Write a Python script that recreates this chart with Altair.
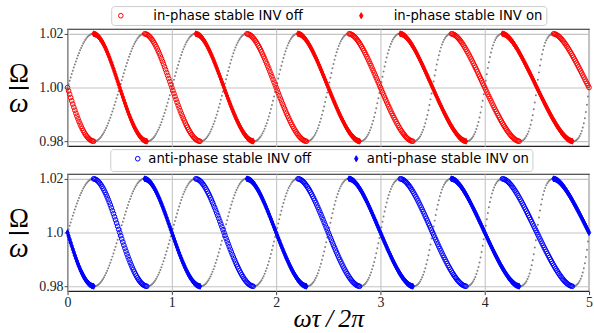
import numpy as np
import pandas as pd
import altair as alt

# ---- model / axis settings -------------------------------------------------
# Self-consistent collective frequency of two delay-coupled oscillators:
#   Ω = ω ∓ K sin(Ωτ)   ->   y = 1 ∓ k sin(2π x y),  x = ωτ/2π, y = Ω/ω
K_OVER_OMEGA = 0.02
X_START, X_STOP, X_STEP = 0.0, 5.0, 0.01
X_TICKS = [0, 1, 2, 3, 4, 5]
Y_TICKS = [0.98, 1.00, 1.02]
Y_DOMAIN = [0.9782, 1.0218]

IN_LABELS = ["in-phase stable INV off", "in-phase stable INV on"]
ANTI_LABELS = ["anti-phase stable INV off", "anti-phase stable INV on"]
X_TITLE = "ωτ\u2009/\u20092π"

RED = "#ff0000"
BLUE = "#0000ff"
GREY = "#808080"
THIN_DIAMOND = "M0,-1L0.55,0L0,1L-0.55,0Z"

xs = np.round(np.arange(X_START, X_STOP + X_STEP / 2, X_STEP), 6)


def solve_branch(sign):
    """Fixed-point solution of y = 1 - sign*k*sin(2*pi*x*y) on the x grid."""
    y = np.ones_like(xs)
    for _ in range(300):
        y = 1.0 - sign * K_OVER_OMEGA * np.sin(2 * np.pi * xs * y)
    stable = sign * np.cos(2 * np.pi * xs * y) > 0
    return pd.DataFrame({"x": xs, "y": y, "stable": stable})


branch_minus = solve_branch(+1)   # Ω = ω - K sin(Ωτ)
branch_plus = solve_branch(-1)    # Ω = ω + K sin(Ωτ)

unstable = pd.concat([branch_minus[~branch_minus.stable],
                      branch_plus[~branch_plus.stable]], ignore_index=True)

top_stable = pd.concat([
    branch_minus[branch_minus.stable].assign(series=IN_LABELS[0]),
    branch_plus[branch_plus.stable].assign(series=IN_LABELS[1]),
], ignore_index=True)

bottom_stable = pd.concat([
    branch_plus[branch_plus.stable].assign(series=ANTI_LABELS[0]),
    branch_minus[branch_minus.stable].assign(series=ANTI_LABELS[1]),
], ignore_index=True)

W, H = 525, 118


def make_legend(lx, ly, lab_off, col_pad, lead=None):
    if lead is not None:
        # blank leading title used as an indent before the first entry
        extra = dict(title=" ", titleOrient="left", titleFontSize=lead[0],
                     titlePadding=lead[1], titleFont="DejaVu Sans")
    else:
        extra = dict(title=None)
    return alt.Legend(
        orient="none", legendX=lx, legendY=ly, direction="horizontal",
        labelFont="DejaVu Sans", labelFontSize=13.3,
        labelColor="black", labelLimit=400, symbolStrokeWidth=1,
        labelOffset=lab_off, columnPadding=col_pad,
        padding=3, strokeColor="#cccccc", fillColor="white", cornerRadius=3,
        **extra,
    )


def panel(stable_df, labels, color, legend, show_x, mid_label):
    x_axis = alt.Axis(
        values=X_TICKS, labels=show_x, ticks=show_x, labelFlush=False,
        title=X_TITLE if show_x else None, format="d",
    )
    x = alt.X("x:Q", scale=alt.Scale(domain=[X_START, X_STOP], nice=False, zero=False),
              axis=x_axis)
    y = alt.Y("y:Q", scale=alt.Scale(domain=Y_DOMAIN, nice=False, zero=False),
              axis=alt.Axis(values=Y_TICKS, title=None,
                            labelExpr=f"abs(datum.value - 1) < 1e-9 ? '{mid_label}' : format(datum.value, '.2f')"))

    grey = alt.Chart(unstable).mark_circle(size=4, color=GREY, opacity=1).encode(x=x, y=y)

    pts = alt.Chart(stable_df).mark_point(opacity=1, strokeWidth=1).encode(
        x=x, y=y,
        shape=alt.Shape("series:N", scale=alt.Scale(domain=labels, range=["circle", THIN_DIAMOND]),
                        legend=legend),
        stroke=alt.Stroke("series:N", scale=alt.Scale(domain=labels, range=[color, color]),
                          legend=legend),
        fill=alt.Fill("series:N", scale=alt.Scale(domain=labels, range=["transparent", color]),
                      legend=legend),
        size=alt.Size("series:N", scale=alt.Scale(domain=labels, range=[22, 36]),
                      legend=legend),
    )

    # y-axis label drawn as the fraction Ω / ω
    num = alt.Chart(pd.DataFrame({"t": ["Ω"]})).mark_text(
        font="Liberation Serif", fontSize=27, baseline="alphabetic", align="center", color="black"
    ).encode(text="t:N", x=alt.value(-49), y=alt.value(H / 2 - 6))
    den = alt.Chart(pd.DataFrame({"t": ["ω"]})).mark_text(
        font="Liberation Serif", fontSize=28, fontStyle="italic", baseline="alphabetic",
        align="center", color="black"
    ).encode(text="t:N", x=alt.value(-49), y=alt.value(H / 2 + 25))
    bar = alt.Chart(pd.DataFrame({"t": [0]})).mark_rect(color="black").encode(
        x=alt.value(-59), x2=alt.value(-39), y=alt.value(H / 2 - 0.5), y2=alt.value(H / 2 + 1.5)
    )

    return alt.layer(grey, pts, num, den, bar).properties(width=W, height=H)


top = panel(top_stable, IN_LABELS, RED, make_legend(44, -23, 26, 52), False, "1.00")
bottom = panel(bottom_stable, ANTI_LABELS, BLUE, make_legend(43, -25, 4, 38, lead=(20, 18)),
               True, "1.0")

chart = (
    alt.vconcat(top, bottom, spacing=28, bounds="flush")
    .resolve_scale(shape="independent", stroke="independent", fill="independent",
                   size="independent")
    .resolve_legend(shape="independent", stroke="independent", fill="independent",
                    size="independent")
    .properties(padding={"left": 8, "top": 3, "right": 0, "bottom": 0})
    .configure_view(stroke="#222222", strokeWidth=1.2)
    .configure_axis(
        grid=True, gridColor="#c4c4c4", gridWidth=1.1, domain=False,
        tickColor="#444444", tickSize=3.5, labelFont="Liberation Serif", labelFontSize=14,
        labelColor="#222222", labelPadding=1,
        titleFont="Liberation Serif", titleFontSize=26, titleFontStyle="italic",
        titleFontWeight="normal", titleColor="black", titlePadding=-4,
    )
)

chart.save("out.html", embed_options={"renderer": "svg", "actions": False})
